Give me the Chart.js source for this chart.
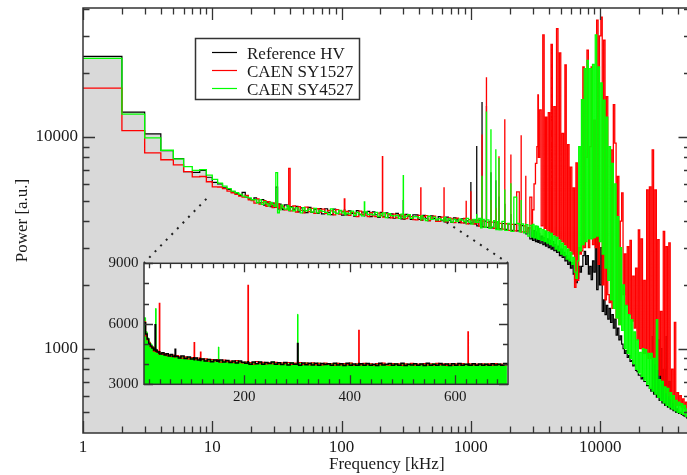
<!DOCTYPE html>
<html lang="en">
  <head>
    <meta charset="UTF-8" />
    <title>HV noise spectrum</title>
    <script src="https://cdn.jsdelivr.net/npm/chart.js"></script>
    <style>
        body { margin: 0; background: #fff; overflow: hidden; }
        .wrap { position: relative; width: 687px; height: 475px; overflow: hidden; }
        #main { position: absolute; left: 0; top: 0; }
        #inset { position: absolute; left: 94px; top: 255px; }
    </style>
  </head>
  <body>
    <div class="wrap">
        <canvas id="main" width="700" height="475"></canvas>
        <canvas id="inset" width="424" height="160"></canvas>
    </div>

    <script>
        // main spectrum, frequency in kHz (shared by all three supplies)
        const freq = [
            1,2,3,4,5,6,7,8,9,10,
            11,12,13,14,15,16,17,18,19,20,
            21,22,23,24,25,26,27,28,29,30,
            31,32,33,34,35,36,38,39,40,42,
            44,46,48,50,52,55,58,61,64,67,
            70,74,78,82,86,90,95,100,105,106,
            108,113,118,124,130,136,143,150,151,158,
            165,173,181,190,199,207,208,218,228,239,
            250,262,275,288,300,301,310,325,340,356,
            372,390,410,411,425,445,465,487,510,534,
            559,585,620,621,640,670,700,733,767,803,
            840,880,920,921,960,1000,1001,1040,1080,1110,
            1111,1150,1190,1220,1221,1270,1320,1321,1380,1430,
            1431,1500,1560,1561,1610,1650,1651,1740,1830,1831,
            1930,2040,2041,2150,2260,2370,2450,2451,2560,2660,
            2661,2760,2860,2960,3000,3080,3160,3240,3300,3330,
            3410,3500,3600,3690,3780,3870,3970,4070,4170,4270,
            4380,4490,4600,4720,4840,4960,5080,5210,5340,5470,
            5610,5750,5890,6040,6190,6340,6500,6660,6830,7000,
            7170,7350,7530,7720,7910,8110,8310,8520,8730,8950,
            9170,9400,9640,9880,10130,10380,10640,10910,11180,11460,
            11750,12040,12340,12650,12970,13290,13620,13960,14310,14670,
            15040,15420,15800,16200,16600,17020,17440,17880,18330,18790,
            19260,19740,20230,20740,21260,21790,22330,22890,23460,24050,
            24650,25270,25900,26550,27210,27890,28590,29300,30040,30790,
            31560,32350,33150,33980,34830,35700,36600,37510,38450,39410,
            40400,41400,42440,43500,44590,45700,46840,48010,49210,50440
        ];

        const refPower = [
            24000,13100,10330,8600,7900,6850,6800,6950,6450,6100,
            6000,5750,5650,5500,5400,5300,5470,5200,5100,5050,
            5150,4900,4880,5060,4760,4930,4850,4680,4870,4650,
            5800,4560,4820,4600,4540,4780,4700,4480,4690,4560,
            4700,4430,4620,4480,4390,4650,4400,4560,4350,4590,
            4330,4580,4400,4300,4560,4360,4480,4270,4520,4330,
            4280,4470,4350,4220,4490,4300,4420,4240,4380,4450,
            4200,4430,4290,4170,4400,4330,4210,4380,4160,4330,
            4130,4350,4240,4100,5000,4090,4310,4220,4080,4290,
            4280,4080,4210,4050,4260,4130,4020,4240,4110,4000,
            4200,4020,4140,3970,4180,4050,3950,4150,4060,3940,
            4100,3930,4080,4010,3890,6080,3920,4070,3880,9000,
            3800,4050,3860,14500,3760,4000,13900,3740,3980,6760,
            3720,3960,6200,3700,3940,5200,3680,3900,4800,3660,
            3880,4300,3620,3860,3600,3840,3560,3810,3550,3790,
            3480,3720,3300,3660,3250,3610,3200,3560,3180,3500,
            3150,3400,3100,3350,3050,3300,3000,3250,2950,3200,
            2900,3100,2850,3050,2750,2950,2700,2850,2600,2750,
            2500,2650,2400,2550,2250,2120,2050,2150,2450,2300,
            2450,2750,2880,2500,2750,2250,2450,2120,2600,2300,
            3300,1900,3400,2000,3000,1500,1700,1450,1600,1380,
            1550,1330,1450,1250,1380,1160,1250,1100,1150,1050,
            1000,950,980,910,930,870,880,830,840,790,
            780,750,750,720,730,700,700,670,670,650,
            630,1140,610,900,590,1100,570,1000,555,800,
            540,1140,530,700,520,600,510,560,500,520,
            495,500,490,485,480,478,470,468,460,458
        ];

        const sy1527Power = [
            17000,10700,8400,7800,7380,6850,6480,6500,6140,5810,
            5800,5700,5550,5450,5350,5250,5200,5300,5050,5000,
            4870,5090,4820,4890,5000,4700,4940,4830,4640,4860,
            4650,4830,4580,4750,4690,4520,4600,7100,4470,4720,
            4420,4690,4500,4380,4660,4440,4600,4350,4580,4420,
            4560,4350,4500,4470,4280,4540,4320,4450,5100,4300,
            4450,4260,4400,4360,4200,4460,4300,4420,4270,4200,
            4390,4240,4200,4370,4250,8070,4180,4340,4290,4150,
            4320,4150,4300,4230,4100,4280,4110,4260,4200,4070,
            4060,4260,5750,4050,4200,4250,4030,4140,4220,3990,
            3990,4180,5750,4030,3960,4150,4100,3940,4130,4000,
            3930,4120,4960,3890,4070,5500,4040,3880,4030,3900,
            4040,3790,3980,10200,4010,3750,19000,3950,3780,5000,
            3960,3700,4600,3940,3690,8050,3910,3670,12030,3890,
            3620,8200,3860,3600,5500,3820,10100,3560,3800,6500,
            3560,3720,5200,3600,4530,6000,7500,9000,15800,8000,
            13400,3800,30300,3700,12400,3600,13000,3500,27300,3450,
            13900,3400,32400,3300,24900,3200,10400,3100,21900,3000,
            9200,2900,7200,2800,5750,1950,7540,2100,3000,2800,
            2900,21400,3000,8000,25700,3000,9000,21400,3100,12000,
            3000,35600,2500,30000,36800,2000,28600,1700,15500,1800,
            1650,8680,1550,14200,9350,1400,6500,1300,4000,5440,
            1800,2800,1600,3030,1450,3250,1350,2200,1250,2400,
            1100,3640,1000,3300,950,2100,950,5620,900,5810,
            900,8680,850,5620,800,3270,750,1500,700,3580,
            620,3030,600,3160,580,800,560,1330,540,620,
            540,600,530,580,520,560,500,540,490,520
        ];

        const sy4527Power = [
            23500,12800,9900,8650,7880,7240,6950,7000,6600,6300,
            6050,5850,5700,5550,5450,5350,5250,5200,5150,5050,
            5060,4880,5040,4800,4950,4840,4720,4900,4800,4700,
            6780,4380,4520,4760,4620,4560,4740,4500,4650,4480,
            4620,4510,4380,4640,4480,4560,4420,4600,4380,4500,
            4450,4400,4300,4570,4420,4340,4500,4380,4460,4280,
            4370,4330,4460,4260,4400,4320,4240,4930,4420,4300,
            4320,4280,4400,4200,4330,4230,4380,4160,4340,4250,
            4240,4260,4120,4320,6560,4150,4230,4300,4120,4200,
            4200,4150,4050,4240,4100,4030,4220,4080,4180,4060,
            4110,4060,3990,4170,4020,4110,3960,4080,3990,4090,
            4050,3980,3900,4120,3960,4050,3870,4080,3950,4300,
            3950,4120,3720,6500,4080,3740,13100,4060,3700,10800,
            3760,4020,8680,3650,3980,7900,3640,3990,5600,3620,
            3900,6000,3580,5200,3900,3560,5000,3880,3520,3860,
            3850,3400,3820,3360,3860,3340,3800,3300,3780,3280,
            3700,3250,3650,3200,3600,3150,3550,3100,3500,3050,
            3400,2950,3350,2900,3250,2800,3150,2750,3050,2650,
            2950,2600,2850,2500,2700,2300,2150,2600,9000,2900,
            15000,3100,21000,3200,23000,3300,21000,3300,22000,3350,
            30300,3400,21400,3200,18000,2800,14900,2400,12400,2100,
            9000,1700,7500,1550,6000,1400,4200,1300,3000,1220,
            2000,1000,1600,950,1450,900,1370,850,1200,800,
            1100,770,960,740,1000,710,990,680,950,650,
            950,630,900,610,1370,590,715,570,700,555,
            660,540,650,530,620,520,600,510,570,500,
            560,495,550,490,540,480,520,470,510,460
        ];

        // inset: linear zoom on 10 - 700 kHz
        const insetFreq = [
            10,13,16,19,22,25,28,31,32,33,
            35,38,39,40,44,48,52,56,60,64,
            68,69,70,75,80,86,92,98,104,105,
            106,111,116,117,118,124,130,136,142,148,
            151,152,153,159,165,171,177,183,189,195,
            201,207,208,209,215,221,227,233,239,245,
            251,257,263,269,275,281,287,293,301,302,
            303,309,315,321,327,333,339,345,351,357,
            363,369,375,381,387,393,399,405,411,417,
            418,419,425,431,437,443,449,455,461,467,
            473,479,485,491,497,503,509,515,521,527,
            533,539,545,551,557,563,569,575,581,587,
            593,599,605,611,617,624,625,626,632,638,
            644,650,656,662,668,674,680,686,692,698
        ];

        const insetRef = [
            6050,5500,5250,5000,4900,4800,4700,5950,4650,4700,
            4600,4550,4620,4500,4560,4450,4520,4400,4480,4380,
            4420,4740,4380,4300,4400,4280,4350,4250,4320,4220,
            4300,4200,4280,4180,4250,4150,4230,4120,4200,4140,
            4180,4120,4200,4100,4180,4080,4160,4060,4150,4090,
            4040,4120,4060,4000,4100,4020,4110,3990,4080,4030,
            4100,3990,4070,3980,4080,3960,4060,4000,5020,4050,
            3950,4060,3970,4040,3960,4050,3940,4030,3980,4020,
            3940,4040,3960,4020,3930,4050,3950,4010,3940,4030,
            3960,4020,3940,4030,3950,4000,3930,4040,3960,3990,
            4030,3940,4010,3950,4040,3930,4000,3960,4020,3940,
            4010,3930,4050,3950,4000,3940,4030,3960,4010,3930,
            4020,3950,4030,3940,4000,3960,4010,3950,4020,3940,
            4010,3950,4000,3940,4020,3960,4000,3950,4030,3960
        ];

        const insetSy1527 = [
            6100,5400,5200,5050,4850,4850,4650,4700,4750,4600,
            4650,4500,7010,4550,4480,4520,4420,4470,4380,4450,
            4350,4400,4420,4380,4300,4360,4260,4330,4280,5070,
            4250,4300,4200,4600,4220,4260,4150,4220,4160,4230,
            4150,4180,4100,4200,4120,4150,4080,4170,4100,4060,
            4100,7910,4050,4080,4000,4120,4040,4090,4010,4060,
            4020,4090,4000,4060,4030,4080,3990,4050,4150,4020,
            4080,3990,4050,3970,4060,3980,4040,3960,4050,3990,
            4020,3950,4040,3960,4030,3980,4050,3950,4020,5680,
            4000,3960,4040,3980,4020,3950,4030,3970,4050,3960,
            3950,4030,3970,4020,3940,4010,3980,4040,3950,4000,
            3970,4030,3960,4020,3950,4040,3980,4010,3940,4020,
            3950,4010,3960,4030,3970,5600,3990,4020,3960,4000,
            3970,4020,3960,4010,3950,4030,3970,4000,3960,4010
        ];

        const insetSy4527 = [
            6300,5600,5300,5100,5000,4880,4780,4720,6760,4600,
            4620,4580,4600,4560,4500,4480,4460,4450,4430,4420,
            4400,4420,4380,4360,4350,4330,4320,4300,4290,4280,
            4300,4240,4280,4220,4260,4200,4240,4190,4220,4170,
            4850,4170,4160,4150,4140,4130,4120,4110,4100,4090,
            4110,4060,4090,4040,4080,4030,4090,4040,4070,4020,
            4100,4030,4080,4020,4060,4010,4070,4030,6470,4060,
            4050,4020,4060,4000,4040,4010,4050,3990,4030,4000,
            4030,3990,4040,3980,4020,4000,4050,3970,4010,3990,
            4010,3980,4030,3990,4000,3970,4020,3990,4010,3980,
            4000,3980,4020,3970,4010,3990,4000,3970,4020,3980,
            4010,3990,4000,3980,4020,3970,4010,3990,4000,3970,
            4000,3980,4010,3970,4000,3990,4000,3980,4010,3970,
            4000,3980,4010,3970,4000,3990,4010,3980,4000,3990
        ];

        const seriesNames = ['Reference HV', 'CAEN SY1527', 'CAEN SY4527'];
        const seriesColors = ['#000000', '#ff0000', '#00ff00'];

        // tick values
        const mainXMajor = [1, 10, 100, 1000, 10000];
        const mainYMajor = [1000, 10000];
        const insetXMajor = [200, 400, 600];
        const insetYMajor = [3000, 6000, 9000];

        // where the dotted zoom lines leave the main curve (kHz, power)
        const zoomFrom = [[9, 5100], [650, 3950]];

        Chart.defaults.font.family = "'Liberation Serif', 'DejaVu Serif', serif";
        Chart.defaults.color = '#1a1a1a';

        function pts(xs, ys) {
            return xs.map((x, i) => ({ x: x, y: ys[i] }));
        }

        function minorLog(lo, hi) {
            const out = [];
            for (let d = 1; d <= 100000; d *= 10) {
                for (let k = 2; k <= 9; k++) {
                    const v = k * d;
                    if (v > lo && v < hi) out.push(v);
                }
            }
            return out;
        }

        function minorLin(lo, hi, step, skip) {
            const out = [];
            for (let v = lo; v < hi; v += step) {
                if (!skip.includes(v)) out.push(v);
            }
            return out;
        }

        // keep chart.js from pushing the plot area in for edge labels
        function noEdgePad(s) {
            s.paddingTop = 0; s.paddingBottom = 0;
            s.paddingLeft = 0; s.paddingRight = 0;
        }

        // frame and inward ticks on all four sides
        const frameTicks = {
            id: 'frameTicks',
            afterDatasetsDraw(chart, args, o) {
                const { ctx, chartArea: a, scales } = chart;
                ctx.save();
                ctx.strokeStyle = '#333';
                ctx.lineWidth = 1.3;
                ctx.beginPath();
                const xt = (vals, len) => vals.forEach(v => {
                    const p = Math.round(scales.x.getPixelForValue(v)) + 0.5;
                    ctx.moveTo(p, a.bottom); ctx.lineTo(p, a.bottom - len);
                    ctx.moveTo(p, a.top); ctx.lineTo(p, a.top + len);
                });
                const yt = (vals, len) => vals.forEach(v => {
                    const p = Math.round(scales.y.getPixelForValue(v)) + 0.5;
                    ctx.moveTo(a.left, p); ctx.lineTo(a.left + len, p);
                    ctx.moveTo(a.right, p); ctx.lineTo(a.right - len, p);
                });
                xt(o.xMajor, o.major); xt(o.xMinor, o.minor);
                yt(o.yMajor, o.major); yt(o.yMinor, o.minor);
                ctx.stroke();
                ctx.lineWidth = 1.5;
                ctx.strokeRect(a.left, a.top, a.right - a.left, a.bottom - a.top);
                ctx.restore();
            }
        };

        // dotted zoom lines and the legend box
        const mainDecor = {
            id: 'mainDecor',
            afterDatasetsDraw(chart) {
                const { ctx, scales } = chart;
                const ends = [[144, 263], [508, 263]];
                ctx.save();
                ctx.strokeStyle = '#222';
                ctx.lineWidth = 2;
                ctx.setLineDash([2, 6]);
                zoomFrom.forEach((z, i) => {
                    ctx.beginPath();
                    ctx.moveTo(scales.x.getPixelForValue(z[0]), scales.y.getPixelForValue(z[1]));
                    ctx.lineTo(ends[i][0], ends[i][1]);
                    ctx.stroke();
                });
                ctx.restore();
            },
            afterDraw(chart) {
                const ctx = chart.ctx;
                ctx.save();
                ctx.fillStyle = '#fff';
                ctx.fillRect(195, 38, 164, 61);
                ctx.strokeStyle = '#333';
                ctx.lineWidth = 1.5;
                ctx.strokeRect(195.5, 38.5, 164, 61);
                ctx.font = "17px 'Liberation Serif'";
                ctx.textBaseline = 'alphabetic';
                seriesNames.forEach((name, i) => {
                    const y = 52 + i * 18;
                    ctx.strokeStyle = seriesColors[i];
                    ctx.lineWidth = 1.2;
                    ctx.beginPath();
                    ctx.moveTo(212, y + 0.5);
                    ctx.lineTo(237, y + 0.5);
                    ctx.stroke();
                    ctx.fillStyle = '#1a1a1a';
                    ctx.fillText(name, 247, y + 6.5);
                });
                ctx.restore();
            }
        };

        const insetBg = {
            id: 'insetBg',
            beforeDatasetsDraw(chart) {
                const { ctx, chartArea: a } = chart;
                ctx.save();
                ctx.fillStyle = '#fff';
                ctx.fillRect(a.left, a.top, a.right - a.left, a.bottom - a.top);
                ctx.restore();
            }
        };

        const bigFont = { family: "'Liberation Serif'", size: 17 };
        const smallFont = { family: "'Liberation Serif'", size: 15 };

        new Chart(document.getElementById('main'), {
            type: 'line',
            data: {
                datasets: [
                    { label: seriesNames[0], data: pts(freq, refPower), borderColor: seriesColors[0],
                      backgroundColor: '#d9d9d9', fill: 'start', borderWidth: 1.2, order: 3 },
                    { label: seriesNames[1], data: pts(freq, sy1527Power), borderColor: seriesColors[1],
                      fill: false, borderWidth: 1.3, order: 2 },
                    { label: seriesNames[2], data: pts(freq, sy4527Power), borderColor: seriesColors[2],
                      fill: false, borderWidth: 1.3, order: 1 }
                ]
            },
            options: {
                responsive: false,
                animation: false,
                events: [],
                layout: { padding: { top: 8, right: 9.5, left: 0, bottom: 0 } },
                elements: {
                    point: { radius: 0 },
                    line: { stepped: true, tension: 0 }
                },
                scales: {
                    x: {
                        type: 'logarithmic', min: 1, max: 50000,
                        grid: { display: false, drawTicks: false }, border: { display: false },
                        afterBuildTicks: s => { s.ticks = mainXMajor.map(v => ({ value: v })); },
                        afterFit: s => { s.height = 42; noEdgePad(s); },
                        ticks: { callback: v => String(v), font: bigFont, padding: 4, autoSkip: false, maxRotation: 0 },
                        title: { display: true, text: 'Frequency [kHz]', font: bigFont, padding: { top: 0, bottom: 0.5 } }
                    },
                    y: {
                        type: 'logarithmic', min: 400, max: 40600,
                        grid: { display: false, drawTicks: false }, border: { display: false },
                        afterBuildTicks: s => { s.ticks = mainYMajor.map(v => ({ value: v })); },
                        afterFit: s => { s.width = 83; noEdgePad(s); },
                        ticks: { callback: v => String(v), font: bigFont, padding: 5, autoSkip: false },
                        title: { display: true, text: 'Power [a.u.]', font: bigFont, padding: { top: 12, bottom: 0 } }
                    }
                },
                plugins: {
                    legend: { display: false },
                    tooltip: { enabled: false },
                    frameTicks: {
                        xMajor: mainXMajor, xMinor: minorLog(1, 50000),
                        yMajor: mainYMajor, yMinor: minorLog(400, 40600),
                        major: 12, minor: 6.5
                    }
                }
            },
            plugins: [frameTicks, mainDecor]
        });

        new Chart(document.getElementById('inset'), {
            type: 'line',
            data: {
                datasets: [
                    { label: seriesNames[2], data: pts(insetFreq, insetSy4527), borderColor: seriesColors[2],
                      backgroundColor: seriesColors[2], fill: 'start', borderWidth: 1, order: 3 },
                    { label: seriesNames[1], data: pts(insetFreq, insetSy1527), borderColor: seriesColors[1],
                      fill: false, borderWidth: 1.2, order: 2 },
                    { label: seriesNames[0], data: pts(insetFreq, insetRef), borderColor: seriesColors[0],
                      fill: false, borderWidth: 1.5, order: 1 }
                ]
            },
            options: {
                responsive: false,
                animation: false,
                events: [],
                layout: { padding: { top: 8.3, right: 10, left: 0, bottom: 0 } },
                elements: {
                    point: { radius: 0 },
                    line: { stepped: true, tension: 0 }
                },
                scales: {
                    x: {
                        type: 'linear', min: 10, max: 700,
                        grid: { display: false, drawTicks: false }, border: { display: false },
                        afterBuildTicks: s => { s.ticks = insetXMajor.map(v => ({ value: v })); },
                        afterFit: s => { s.height = 30.7; noEdgePad(s); },
                        ticks: { font: smallFont, padding: 3.5, autoSkip: false, maxRotation: 0 }
                    },
                    y: {
                        type: 'linear', min: 3000, max: 9000,
                        grid: { display: false, drawTicks: false }, border: { display: false },
                        afterBuildTicks: s => { s.ticks = insetYMajor.map(v => ({ value: v })); },
                        afterFit: s => { s.width = 50; noEdgePad(s); },
                        ticks: { callback: v => String(v), font: smallFont, padding: 5.5, autoSkip: false }
                    }
                },
                plugins: {
                    legend: { display: false },
                    tooltip: { enabled: false },
                    frameTicks: {
                        xMajor: insetXMajor, xMinor: minorLin(20, 700, 20, insetXMajor),
                        yMajor: insetYMajor, yMinor: minorLin(4000, 9000, 1000, insetYMajor),
                        major: 9, minor: 5
                    }
                }
            },
            plugins: [insetBg, frameTicks]
        });
    </script>
  </body>
</html>
